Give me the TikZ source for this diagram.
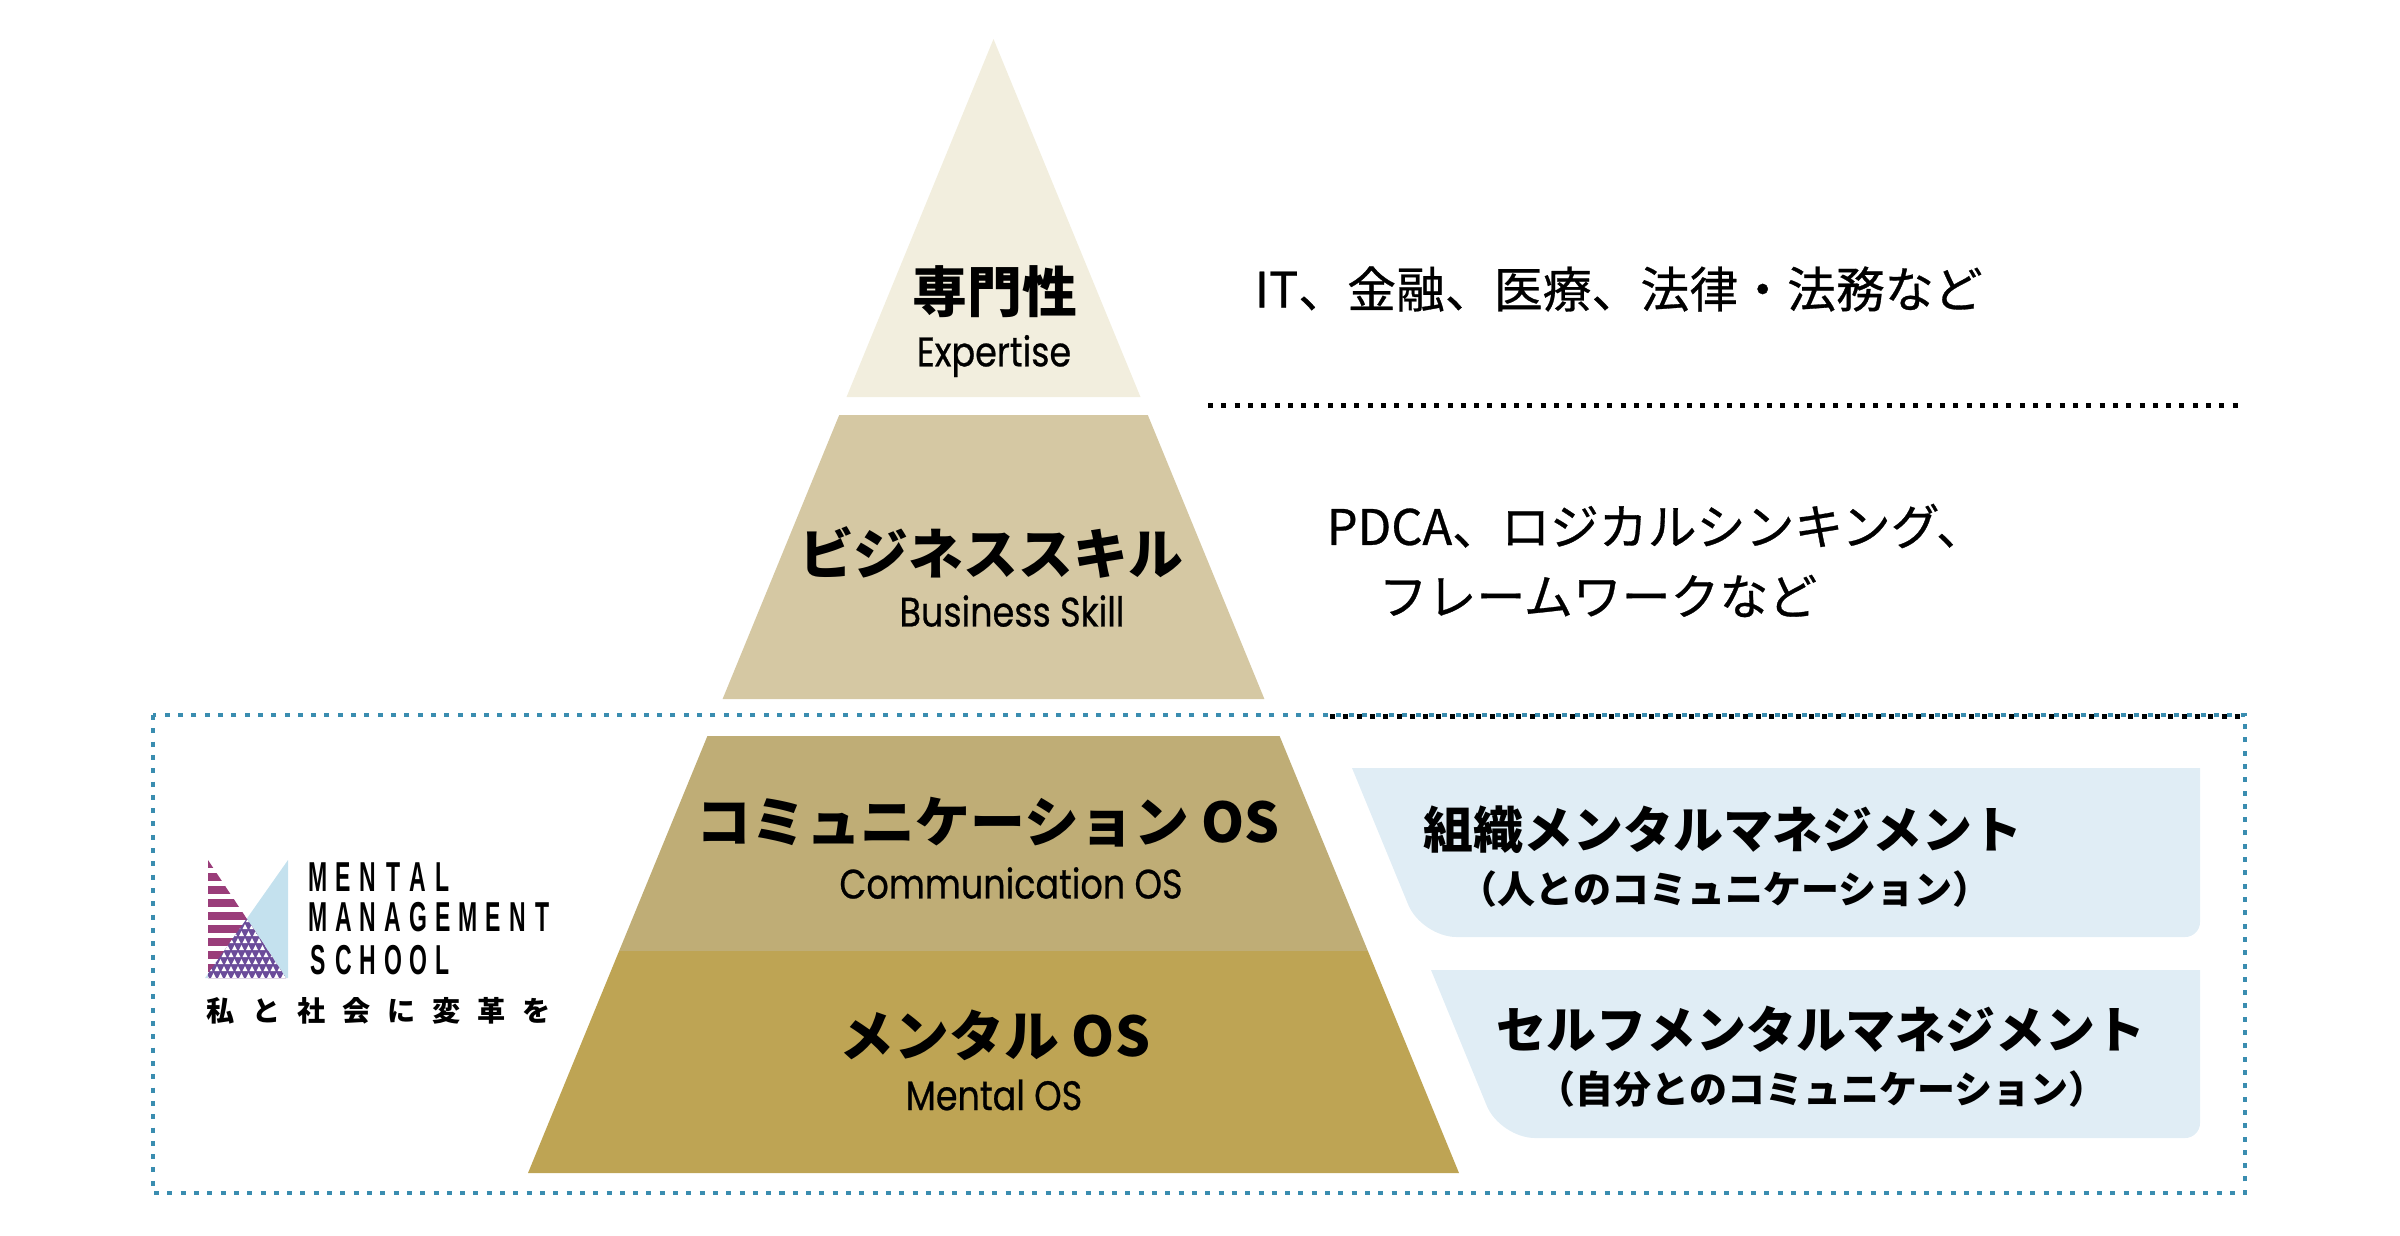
\documentclass[tikz,border=0pt]{standalone}
\usepackage{fontspec}
\newfontfamily\jp{Noto Sans CJK JP}
\newfontfamily\jpm[FakeBold=0.6]{Noto Sans CJK JP}
\newfontfamily\lat[FakeStretch=0.85,FakeBold=0.6]{Poppins}
\newfontfamily\logof[FakeStretch=0.55]{Liberation Sans}
\definecolor{tierA}{HTML}{F2EEDE}
\definecolor{tierB}{HTML}{D5C8A3}
\definecolor{tierC}{HTML}{BFAD76}
\definecolor{tierD}{HTML}{BEA454}
\definecolor{boxblue}{HTML}{E0EDF5}
\definecolor{dotblue}{HTML}{3A8DB0}
\definecolor{logomag}{HTML}{9A3D7A}
\definecolor{logopur}{HTML}{6B4C9A}
\definecolor{logoblue}{HTML}{C4E1EE}
\tikzset{
  head/.style={font=\jp\bfseries\fontsize{15.6}{18}\selectfont, inner sep=0pt},
  sub/.style={font=\lat\fontsize{11.7}{13}\selectfont, inner sep=0pt},
  desc/.style={font=\jpm\fontsize{13.9}{16}\selectfont, inner sep=0pt, anchor=west},
  btitle/.style={font=\jp\bfseries\fontsize{14.2}{16}\selectfont, inner sep=0pt},
  bsub/.style={font=\jp\bfseries\fontsize{10.8}{13}\selectfont, inner sep=0pt},
  logoletter/.style={font=\logof\bfseries\fontsize{11.9}{13}\selectfont, inner sep=0pt},
  logojp/.style={font=\jp\bfseries\fontsize{8}{10}\selectfont, inner sep=0pt},
  blackdots/.style={line width=0.05cm, dash pattern=on 0.05cm off 0.083cm, black},
  bluedots/.style={line width=0.04cm, dash pattern=on 0.05cm off 0.083cm, dotblue},
  bluebox/.style={fill=boxblue}
}
\begin{document}
\begin{tikzpicture}[x=0.01cm, y=-0.01cm]
\useasboundingbox (0,0) rectangle (2400,1235);
% pyramid tiers
\fill[tierA] (993.5,39) -- (1140.5,397) -- (846.5,397) -- cycle;
\fill[tierB] (839.2,415) -- (1147.8,415) -- (1264.4,699) -- (722.6,699) -- cycle;
\fill[tierC] (707.4,736) -- (1279.6,736) -- (1367.9,951) -- (619.1,951) -- cycle;
\fill[tierD] (619.1,951) -- (1367.9,951) -- (1459,1173) -- (528,1173) -- cycle;
% blue boxes
\fill[bluebox] (1352,768) -- (2200,768) [rounded corners=1.5mm] -- (2200,937) [rounded corners=3.5mm] -- (1421.5,937) [sharp corners] -- cycle;
\fill[bluebox] (1431,970) -- (2200,970) [rounded corners=1.5mm] -- (2200,1138) [rounded corners=3.5mm] -- (1500,1138) [sharp corners] -- cycle;
% dotted frames
\draw[bluedots] (153,715) rectangle (2245,1193);
\draw[blackdots] (1208,405) -- (2245,405);
\draw[blackdots] (1330,716) -- (2245,716);
% pyramid labels
\node[head] (h1) at (995,292) {専門性};
\node[sub] (s1) at (994,356) {Expertise};
\node[head] (h2) at (991,552) {ビジネススキル};
\node[sub] (s2) at (1012,611) {Business Skill};
\node[head] (h3) at (988,822) {コミュニケーション OS};
\node[sub] (s3) at (1011,883) {Communication OS};
\node[head] (h4) at (995,1035) {メンタル OS};
\node[sub] (s4) at (994,1095) {Mental OS};
% right descriptions
\node[desc] (d1) at (1254,289) {IT、金融、医療、法律・法務など};
\node[desc] (d2) at (1326,526) {PDCA、ロジカルシンキング、};
\node[desc] (d3) at (1378,596) {フレームワークなど};
\node[btitle] (b1) at (1723,830) {組織メンタルマネジメント};
\node[bsub] (b1s) at (1725,889) {（人とのコミュニケーション）};
\node[btitle] (b2) at (1821,1029) {セルフメンタルマネジメント};
\node[bsub] (b2s) at (1822,1089) {（自分とのコミュニケーション）};
% logo graphic
\fill[logoblue] (288,860) -- (288,978) -- (205,978) -- cycle;
\begin{scope}
  \clip (208,860) -- (286,978) -- (208,978) -- cycle;
  \foreach \k in {0,...,9} {
    \fill[logomag] (205,{860+13*\k}) rectangle (292,{868+13*\k});
  }
  \fill[logopur] (288,860) -- (288,978) -- (205,978) -- cycle;
  \begin{scope}
    \clip (288,860) -- (288,978) -- (205,978) -- cycle;
    \foreach \r in {0,...,8} {
      \foreach \c in {0,...,12} {
        \fill[white] ({204+7*\c+3.5*mod(\r,2)},{978-7*\r}) -- ++(5,0) -- ++(-2.5,-5) -- cycle;
      }
    }
  \end{scope}
\end{scope}
% logo text
\foreach \ch [count=\i from 0] in {M,E,N,T,A,L}
  \node[logoletter] (la\i) at ({318.5+24.9*\i},877) {\ch};
\foreach \ch [count=\i from 0] in {M,A,N,A,G,E,M,E,N,T}
  \node[logoletter] (lb\i) at ({318.5+24.9*\i},917) {\ch};
\foreach \ch [count=\i from 0] in {S,C,H,O,O,L}
  \node[logoletter] (lc\i) at ({318.5+24.9*\i},960) {\ch};
\foreach \ch [count=\i from 0] in {私,と,社,会,に,変,革,を}
  \node[logojp] (lj\i) at ({221+45.1*\i},1011) {\ch};
\end{tikzpicture}
\end{document}
